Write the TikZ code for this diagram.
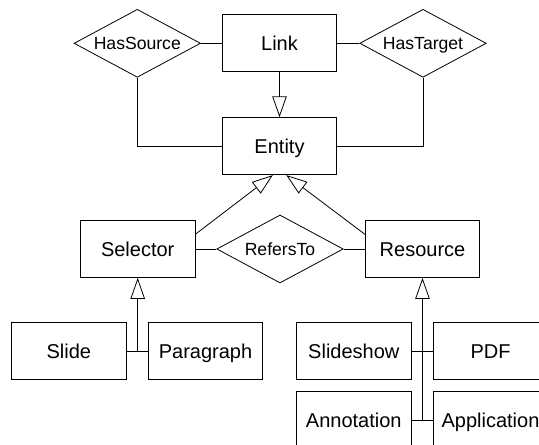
\documentclass[tikz,border=0pt]{standalone}
\usepackage{fontspec}
\setmainfont{Liberation Sans}
\usetikzlibrary{shapes.geometric,arrows.meta,calc}
\tikzset{
  entbox/.style={draw, rectangle, line width=0.8pt, minimum width=114.4pt, minimum height=57pt, inner sep=0pt, text height=14.4pt, text depth=0pt, font=\fontsize{20}{22}\selectfont},
  reldia/.style={draw, diamond, line width=0.8pt, aspect=1.86, minimum width=126.5pt, minimum height=68pt, inner sep=0pt, text height=12.7pt, text depth=0pt, font=\fontsize{17.6}{19}\selectfont},
  conn/.style={line width=0.8pt},
  inh/.style={line width=0.8pt, -{Triangle[open, length=21pt, width=14.5pt, line width=0.8pt]}}
}
\begin{document}
\begin{tikzpicture}[x=1pt, y=-1pt]
\useasboundingbox (0,0) rectangle (539,445);
\fill[white] (0,0) rectangle (539,445);
\clip (0,0) rectangle (539,445);
% entities
\node[entbox] (link) at (279.5,43.3) {Link};
\node[entbox] (ent) at (279.5,146.2) {Entity};
\node[entbox] (sel) at (137.7,249) {Selector};
\node[entbox] (res) at (422.5,249) {Resource};
\node[entbox] (slide) at (68.8,351.3) {Slide};
\node[entbox] (para) at (205.5,351.3) {Paragraph};
\node[entbox] (slsh) at (353.8,351.3) {Slideshow};
\node[entbox] (pdf) at (490.5,351.3) {PDF};
\node[entbox] (anno) at (353.8,420.3) {Annotation};
\node[entbox] (app) at (490.5,420.3) {Application};
% relations
\node[reldia] (hs) at (137.3,43.3) {HasSource};
\node[reldia] (ht) at (423,43.3) {HasTarget};
\node[reldia] (rt) at (280,249) {RefersTo};
% connectors
\draw[conn] (hs.east) -- (link.west);
\draw[conn] (link.east) -- (ht.west);
\draw[conn] (hs.south) |- (ent.west);
\draw[conn] (ht.south) |- (ent.east);
\draw[inh] (link.south) -- (ent.north);
\draw[conn] (sel.east) -- (rt.west);
\draw[conn] (rt.east) -- (res.west);
\coordinate (selout) at ($(sel.east)+(0,-14.7)$);
\coordinate (resout) at ($(res.west)+(0,-14.7)$);
\coordinate (entl) at ($(ent.south)+(-6.6,0)$);
\coordinate (entr) at ($(ent.south)+(6.8,0)$);
\draw[inh] (selout) -- (entl);
\draw[inh] (resout) -- (entr);
% selector subclasses
\coordinate (jsel) at (sel.south |- slide.east);
\draw[inh] (jsel) -- (sel.south);
\draw[conn] (slide.east) -- (para.west);
% resource subclasses
\coordinate (jres) at (res.south |- anno.east);
\draw[inh] (jres) -- (res.south);
\draw[conn] (slsh.east) -- (pdf.west);
\draw[conn] (anno.east) -- (app.west);
\end{tikzpicture}
\end{document}
